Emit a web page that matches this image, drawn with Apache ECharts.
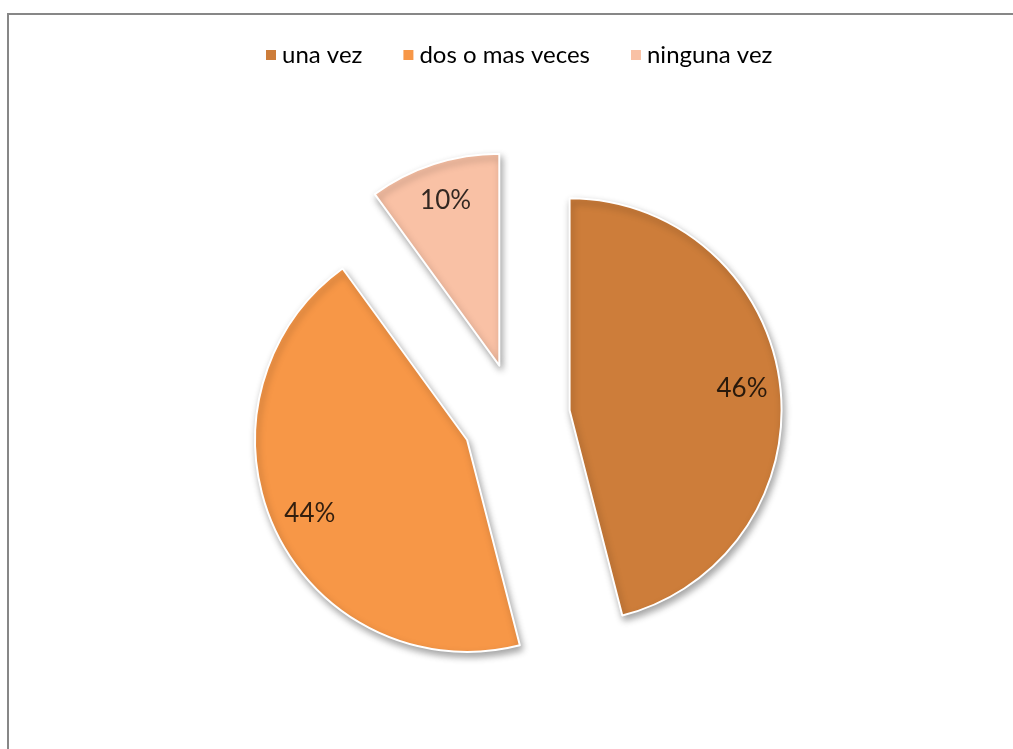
<!DOCTYPE html>
<html>
<head>
<meta charset="utf-8">
<style>
  html, body { margin: 0; padding: 0; background: #ffffff; }
  #chart { width: 1013px; height: 749px; }
</style>
<script src="https://cdn.jsdelivr.net/npm/echarts@6/dist/echarts.min.js"></script>
</head>
<body>
<div id="chart"></div>
<script>
// Answer categories and their shares (percent)
const categories = ['una vez', 'dos o mas veces', 'ninguna vez'];
const shares = [46, 44, 10];
const colors = ['#CD7D3A', '#F79747', '#F9C1A5'];

const FONT = 'Lato';
const CENTER = [516, 417];
const RADIUS = 212;          // pie radius in px
const EXPLODE = 54;          // how far each slice is pulled out
const LABEL_RATIO = 0.82;    // label distance as a fraction of the radius
const POLAR_EXTENT = 300;    // polar radius axis spans 0..300 px, one unit per pixel

const sliceData = categories.map((name, i) => ({
  name: name,
  value: shares[i],
  selected: true,
  itemStyle: { color: colors[i] }
}));

// Percentage labels sit on each slice's mid-angle, pushed out with the slice.
const labelPoints = shares.map((v, i) => {
  const before = shares.slice(0, i).reduce((a, b) => a + b, 0);
  return [RADIUS * LABEL_RATIO + EXPLODE, before + v / 2];
});

const sliceStyle = {
  borderColor: '#ffffff',
  borderWidth: 2,
  shadowBlur: 7,
  shadowOffsetX: 2,
  shadowOffsetY: 4,
  shadowColor: 'rgba(0,0,0,0.35)'
};

const chart = echarts.init(document.getElementById('chart'), null, { renderer: 'canvas' });

chart.setOption({
  backgroundColor: '#ffffff',
  animation: false,
  graphic: [{
    type: 'rect',
    shape: { x: 8, y: 14, width: 1100, height: 800 },
    style: { fill: 'none', stroke: '#878787', lineWidth: 2 },
    silent: true,
    z: -10
  }],
  legend: {
    data: categories,
    left: 259,
    top: 38,
    itemWidth: 12,
    itemHeight: 12,
    itemGap: 39,
    icon: 'rect',
    textStyle: { fontFamily: FONT, fontSize: 24, color: '#000000' }
  },
  polar: { center: CENTER, radius: POLAR_EXTENT },
  angleAxis: {
    type: 'value', min: 0, max: 100, startAngle: 90, clockwise: true, show: false
  },
  radiusAxis: { type: 'value', min: 0, max: POLAR_EXTENT, show: false },
  series: [
    {
      type: 'pie',
      center: CENTER,
      radius: RADIUS,
      startAngle: 90,
      clockwise: true,
      selectedMode: 'multiple',
      selectedOffset: EXPLODE,
      avoidLabelOverlap: false,
      label: { show: false },
      labelLine: { show: false },
      itemStyle: sliceStyle,
      emphasis: { scale: false, itemStyle: sliceStyle },
      select: { itemStyle: sliceStyle },
      data: sliceData,
      z: 2
    },
    {
      type: 'scatter',
      coordinateSystem: 'polar',
      silent: true,
      symbolSize: 1,
      itemStyle: { color: 'rgba(0,0,0,0)' },
      label: {
        show: true,
        position: 'inside',
        formatter: (p) => shares[p.dataIndex] + '%',
        fontFamily: FONT,
        fontSize: 26,
        color: '#000000',
        textBorderWidth: 0
      },
      data: labelPoints,
      z: 5
    }
  ]
});
</script>
</body>
</html>
